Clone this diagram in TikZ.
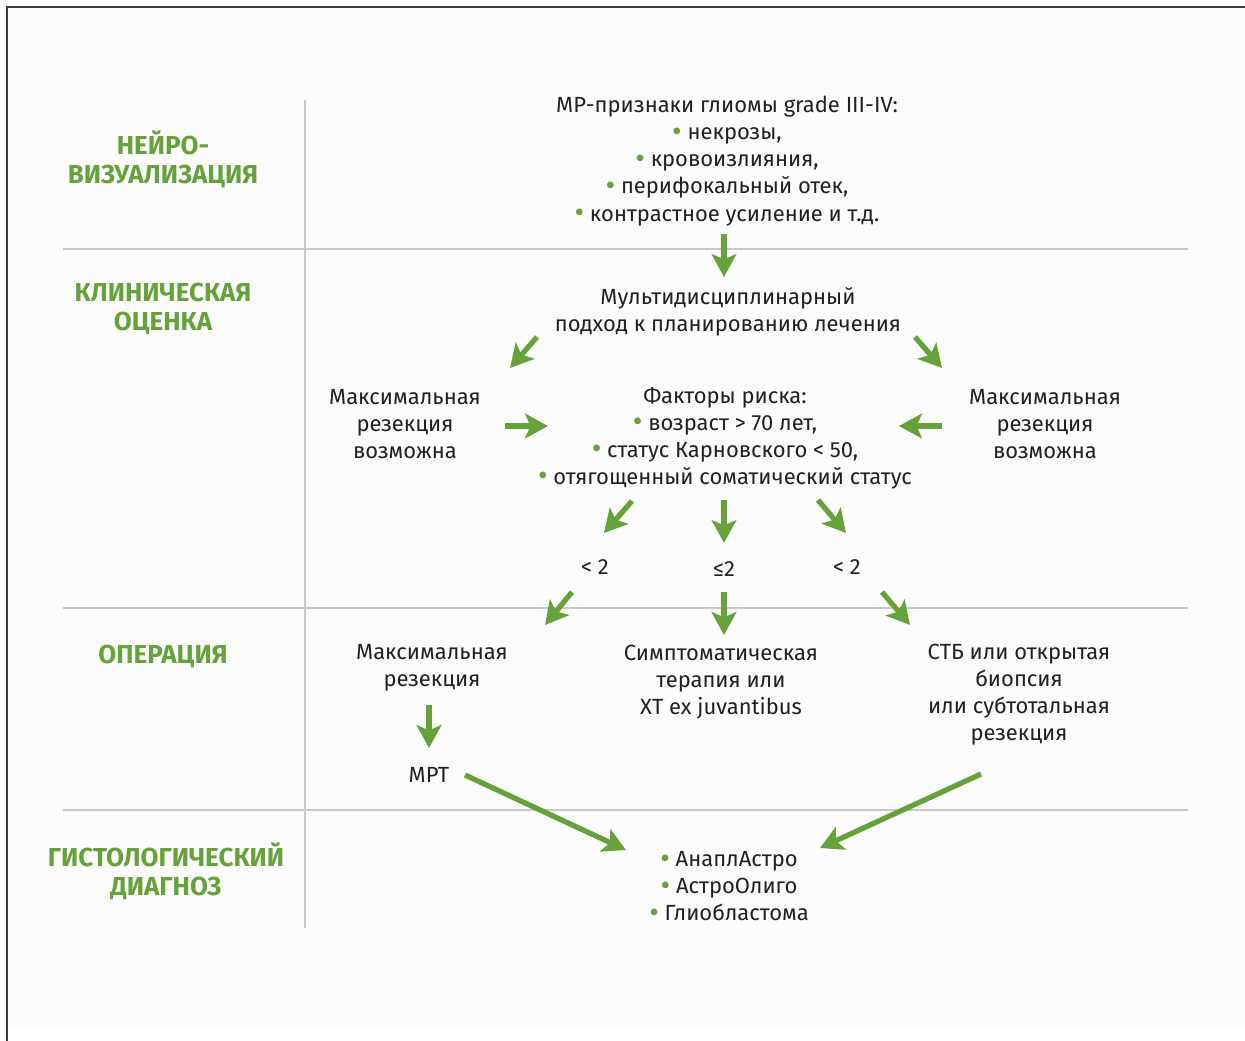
\documentclass[tikz,border=0pt]{standalone}
\usepackage{fontspec}
\setmainfont{Fira Sans}
\usetikzlibrary{arrows.meta}
\definecolor{leafgreen}{HTML}{66A23A}
\definecolor{inkgray}{HTML}{231F20}
\definecolor{rulegray}{HTML}{C8C8C8}
\definecolor{framegray}{HTML}{3A3A3A}
\definecolor{paper}{HTML}{FCFCFC}
\newcommand{\gdot}{\textcolor{leafgreen}{\raisebox{-0.08em}{\scalebox{1.35}{•}}}\ }
\begin{document}
\begin{tikzpicture}[x=0.02cm, y=-0.02cm]
  % Define styles
  \tikzstyle{txt} = [align=center, text=inkgray, inner sep=0pt, font=\fontsize{12.5}{15.4}\selectfont]
  \tikzstyle{sect} = [align=center, text=leafgreen, inner sep=0pt, font=\bfseries\fontsize{14.8}{16.6}\selectfont]
  \tikzstyle{arrow} = [leafgreen, line width=3pt, -{Stealth[length=13pt, width=14pt, inset=3pt]}]
  \tikzstyle{rule} = [rulegray, line width=1pt]

  % Page and frame
  \useasboundingbox (0,0) rectangle (1245,1041);
  \fill[paper] (8,8) rectangle (1245,1027);
  \draw[framegray, line width=1.2pt] (7,1041) -- (7,7) -- (1245,7);

  % Grid lines
  \draw[rule] (63,249) -- (1188,249);
  \draw[rule] (63,608) -- (1188,608);
  \draw[rule] (63,810) -- (1188,810);
  \draw[rule] (305,100) -- (305,928);

  % Section titles
  \node[sect] (neuro) at (163,159) {НЕЙРО-\\ВИЗУАЛИЗАЦИЯ};
  \node[sect] (clin) at (163,309) {КЛИНИЧЕСКАЯ\\ОЦЕНКА};
  \node[sect] (oper) at (163,656) {ОПЕРАЦИЯ};
  \node[sect] (histo) at (166,871) {ГИСТОЛОГИЧЕСКИЙ\\ДИАГНОЗ};

  % Layer 1: Imaging
  \node[txt] (mr) at (727,161) {МР-признаки глиомы grade III-IV:\\\gdot некрозы,\\\gdot кровоизлияния,\\\gdot перифокальный отек,\\\gdot контрастное усиление и т.д.};

  % Layer 2: Clinical assessment
  \node[txt] (multi) at (728,312) {Мультидисциплинарный\\подход к планированию лечения};
  \node[txt] (lmax) at (405,424) {Максимальная\\резекция\\возможна};
  \node[txt] (rmax) at (1045,424) {Максимальная\\резекция\\возможна};
  \node[txt] (risk) at (725,438) {Факторы риска:\\\gdot возраст > 70 лет,\\\gdot статус Карновского < 50,\\\gdot отягощенный соматический статус};
  \node[txt] (lowl) at (595,567) {< 2};
  \node[txt] (leq) at (724,569) {≤2};
  \node[txt] (lowr) at (847,567) {< 2};

  % Layer 3: Surgery
  \node[txt] (opl) at (432,668) {Максимальная\\резекция};
  \node[txt] (sympt) at (721,682) {Симптоматическая\\терапия или\\ХТ ex juvantibus};
  \node[txt] (stb) at (1019,695) {СТБ или открытая\\биопсия\\или субтотальная\\резекция};
  \node[txt] (mrt) at (429,775) {МРТ};

  % Layer 4: Histology
  \node[txt] (hist) at (729,887) {\gdot АнаплАстро\\\gdot АстроОлиго\\\gdot Глиобластома};

  % Arrows
  \draw[arrow] ([shift={(-3,73)}]mr.center) -- ([shift={(-4,-35)}]multi.center);
  \draw[arrow] ([shift={(-191,25)}]multi.center) -- ([shift={(105,-56)}]lmax.center);
  \draw[arrow] ([shift={(187,25)}]multi.center) -- ([shift={(-103,-56)}]rmax.center);
  \draw[arrow] ([shift={(100,2)}]lmax.center) -- ([shift={(-177,-12)}]risk.center);
  \draw[arrow] ([shift={(-103,2)}]rmax.center) -- ([shift={(174,-12)}]risk.center);
  \draw[arrow] ([shift={(-93,63)}]risk.center) -- ([shift={(9,-34)}]lowl.center);
  \draw[arrow] ([shift={(-1,62)}]risk.center) -- ([shift={(0,-26)}]leq.center);
  \draw[arrow] ([shift={(93,62)}]risk.center) -- ([shift={(-1,-34)}]lowr.center);
  \draw[arrow] ([shift={(-23,25)}]lowl.center) -- ([shift={(113,-43)}]opl.center);
  \draw[arrow] ([shift={(0,23)}]leq.center) -- ([shift={(3,-47)}]sympt.center);
  \draw[arrow] ([shift={(35,25)}]lowr.center) -- ([shift={(-109,-70)}]stb.center);
  \draw[arrow] ([shift={(-3,37)}]opl.center) -- ([shift={(0,-27)}]mrt.center);
  \draw[arrow] ([shift={(36,0)}]mrt.center) -- ([shift={(-103,-37)}]hist.center);
  \draw[arrow] ([shift={(-38,79)}]stb.center) -- ([shift={(91,-39)}]hist.center);

\end{tikzpicture}
\end{document}
